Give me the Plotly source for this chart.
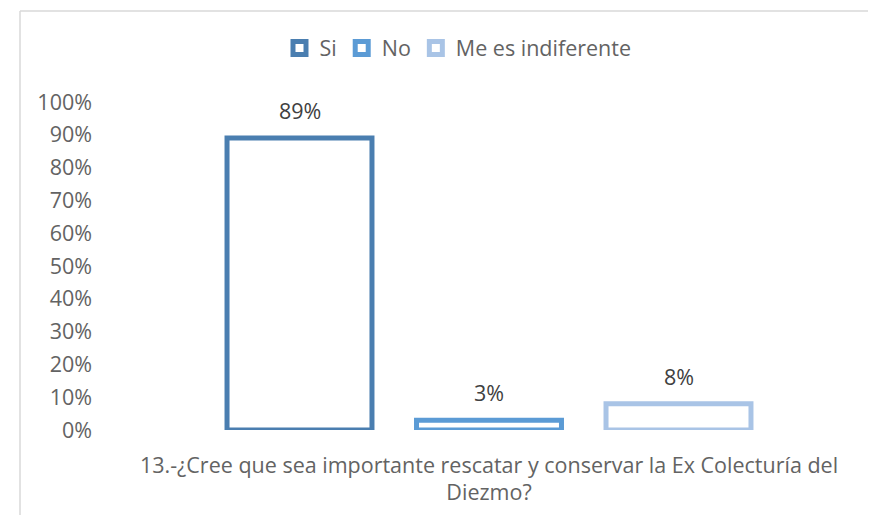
import plotly.graph_objects as go

SERIES = ["Si", "No", "Me es indiferente"]
VALUES = [0.89, 0.03, 0.08]
COLORS = ["#4a7eb0", "#5b9bd5", "#a9c4e6"]
QUESTION = "13.-¿Cree que sea importante rescatar y conservar la Ex Colecturía del<br>Diezmo?"
Y_TICKS = [i / 10 for i in range(11)]

FONT = "Open Sans, Liberation Sans, sans-serif"
FS = 21.5
GREY = "#636363"

# the page body adds an 8px margin, so screen px = figure px + 8
OFF = 8
W, H = 876 - OFF, 515 - OFF
L, T = 110 - OFF, 102 - OFF
R = W - (868 - OFF)
B = H - (430 - OFF)
pw, ph = W - L - R, H - T - B


def px_x(p):
    return (p - OFF - L) / pw


def px_y(p):
    return (H - B - (p - OFF)) / ph


fig = go.Figure()
for i, (name, val, col) in enumerate(zip(SERIES, VALUES, COLORS)):
    fig.add_trace(go.Bar(
        x=[i], y=[val], name=name, width=0.765, showlegend=False,
        marker=dict(color="#ffffff", line=dict(color=col, width=5)),
        hoverinfo="skip",
    ))
    fig.add_annotation(
        x=i, y=val, text=f"{val:.0%}", showarrow=False,
        yanchor="bottom", yshift=11,
        font=dict(family=FONT, size=FS, color="#404040"),
    )

# legend entries with larger square symbols
for name, col in zip(SERIES, COLORS):
    fig.add_trace(go.Scatter(
        x=[None], y=[None], name=name, mode="markers",
        marker=dict(symbol="square", size=13, color="#ffffff",
                    line=dict(color=col, width=5)),
    ))

frame = dict(type="line", xref="paper", yref="paper",
             line=dict(color="#d9d9d9", width=1.5))
fig.add_shape(x0=px_x(20), x1=px_x(900), y0=px_y(11), y1=px_y(11), **frame)
fig.add_shape(x0=px_x(20), x1=px_x(20), y0=px_y(11), y1=px_y(530), **frame)

fig.update_layout(
    width=W, height=H,
    margin=dict(l=L, r=R, t=T, b=B),
    plot_bgcolor="#ffffff", paper_bgcolor="#ffffff",
    showlegend=True,
    legend=dict(
        orientation="h", x=px_x(458), xanchor="center", y=px_y(48), yanchor="middle",
        font=dict(family=FONT, size=FS, color=GREY),
        itemwidth=30, traceorder="normal",
    ),
    xaxis=dict(
        range=[-1, 3], tickvals=[1], ticktext=[QUESTION],
        showgrid=False, zeroline=False, showline=False, ticks="",
        tickfont=dict(family=FONT, size=FS, color=GREY),
        ticklabelstandoff=20, fixedrange=True,
    ),
    yaxis=dict(
        range=[0, 1], tickvals=Y_TICKS, tickformat=".0%",
        showgrid=False, zeroline=False, showline=False, ticks="",
        tickfont=dict(family=FONT, size=FS, color=GREY),
        ticklabelstandoff=17, fixedrange=True,
    ),
)

fig.write_html("out.html")
